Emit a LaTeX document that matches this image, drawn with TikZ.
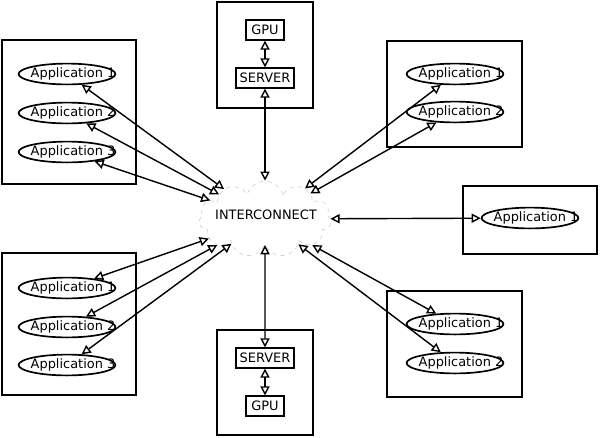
\documentclass[tikz,border=0pt]{standalone}
\usepackage{fontspec}
\setmainfont{DejaVu Sans}
\usetikzlibrary{arrows.meta,shapes.geometric,shapes.symbols}
\begin{document}
\begin{tikzpicture}[x=0.025cm,y=-0.025cm,>={Triangle[open,length=6.5pt,width=6.5pt]},
  font=\fontsize{9.2}{11}\selectfont,
  app/.style={draw,ellipse,line width=1.2pt,minimum width=2.42cm,minimum height=0.52cm,inner xsep=-0.4cm,inner ysep=0pt},
  dev/.style={draw,line width=1.4pt,inner sep=0pt,minimum height=0.48cm},
  link/.style={<->,line width=1pt},
  frame/.style={line width=1.6pt}]
\useasboundingbox (0,0) rectangle (600,437);
\node[cloud,cloud puffs=11,cloud ignores aspect,draw=black!20,dashed,minimum width=3.3cm,minimum height=1.9cm,inner sep=0pt] (net) at (265,219) {};
\node (netlabel) at (266,215) {INTERCONNECT};

\draw[frame] (2,40) rectangle (136,184);
\draw[frame] (217,2) rectangle (313,108);
\draw[frame] (387,41) rectangle (522,147);
\draw[frame] (463,186) rectangle (597,254);
\draw[frame] (2,253) rectangle (136,395);
\draw[frame] (217,330) rectangle (313,435);
\draw[frame] (387,291) rectangle (522,397);

\node[app] (tl1) at (67,74) {\hspace{0.3cm}Application 1};
\node[app] (tl2) at (67,113) {\hspace{0.3cm}Application 2};
\node[app] (tl3) at (67,152) {\hspace{0.3cm}Application 3};
\node[app] (tr1) at (455,74) {\hspace{0.3cm}Application 1};
\node[app] (tr2) at (455,112) {\hspace{0.3cm}Application 2};
\node[app] (r1) at (530,218) {\hspace{0.3cm}Application 1};
\node[app] (bl1) at (67,288) {\hspace{0.3cm}Application 1};
\node[app] (bl2) at (67,327) {\hspace{0.3cm}Application 2};
\node[app] (bl3) at (67,365) {\hspace{0.3cm}Application 3};
\node[app] (br1) at (455,324) {\hspace{0.3cm}Application 1};
\node[app] (br2) at (455,363) {\hspace{0.3cm}Application 2};

\node[dev,minimum width=0.97cm] (gpu1) at (265,30) {GPU};
\node[dev,minimum width=1.45cm] (srv1) at (265,78) {SERVER};
\node[dev,minimum width=1.45cm] (srv2) at (265,358) {SERVER};
\node[dev,minimum width=0.97cm] (gpu2) at (265,406) {GPU};

\draw[link] (gpu1) -- (srv1);
\draw[link] (srv1) -- (net);
\draw[link] (net) -- (srv2);
\draw[link] (srv2) -- (gpu2);
\draw[link] (net) -- (r1);
\foreach \a in {tl1,tl2,tl3,tr1,tr2,bl1,bl2,bl3,br1,br2}
  \draw[link] (\a) -- (net);

\end{tikzpicture}
\end{document}
